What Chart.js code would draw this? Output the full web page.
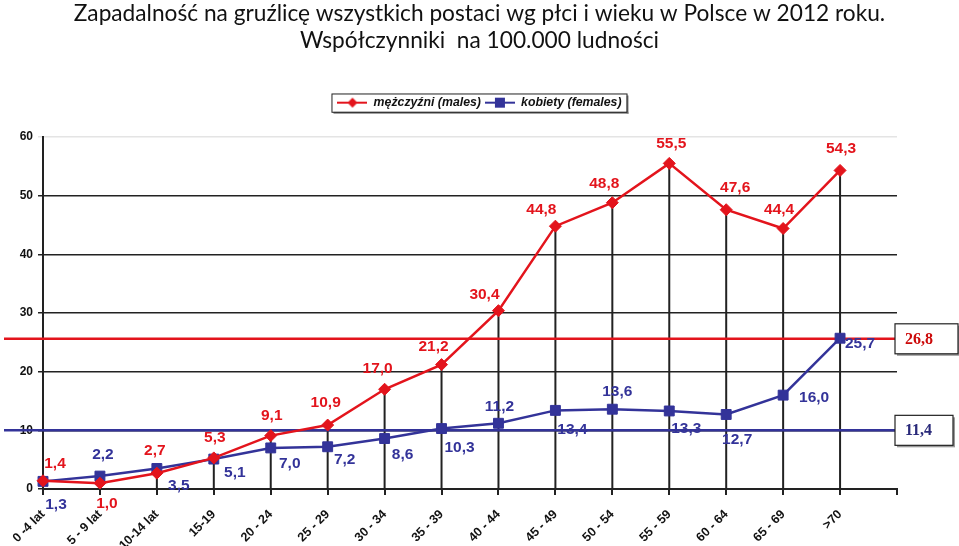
<!DOCTYPE html>
<html>
<head>
<meta charset="utf-8">
<script src="https://cdn.jsdelivr.net/npm/chart.js@4"></script>
<style>
  html, body { margin: 0; padding: 0; background: #fff; }
</style>
</head>
<body>
<canvas id="myChart" width="959" height="546"></canvas>
<script>
// data
const ageGroups = ['0 -4 lat', '5 - 9 lat', '10-14 lat', '15-19', '20 - 24', '25 - 29', '30 - 34', '35 - 39',
  '40 - 44', '45 - 49', '50 - 54', '55 - 59', '60 - 64', '65 - 69', '>70', ''];
const males = [1.4, 1.0, 2.7, 5.3, 9.1, 10.9, 17.0, 21.2, 30.4, 44.8, 48.8, 55.5, 47.6, 44.4, 54.3];
const females = [1.3, 2.2, 3.5, 5.1, 7.0, 7.2, 8.6, 10.3, 11.2, 13.4, 13.6, 13.3, 12.7, 16.0, 25.7];
const yTicks = [0, 10, 20, 30, 40, 50, 60];
const avgLevels = [25.6, 10];          // where the two average lines sit in the picture
const avgTexts = ['26,8', '11,4'];     // what their boxes say

const red = '#e3141c';
const navy = '#333399';
const ink = '#222222';

// label placement around each point (dx, dy in px)
const maleOffsets = [[12,-17],[7,21],[-2,-22],[1,-20],[1,-20],[-2,-22],[-7,-21],[-8,-18],
  [-14,-16],[-14,-16],[-8,-19],[2,-20],[9,-22],[-4,-19],[1,-22]];
const femaleOffsets = [[13,23],[3,-21],[22,17],[21,14],[19,16],[17,13],[18,16],[18,19],
  [1,-17],[17,19],[5,-17],[17,18],[11,25],[31,3],[20,6]];

function fmt(v) { return v.toFixed(1).replace('.', ','); }

function legendIcon(color, shape) {
  const c = document.createElement('canvas');
  c.width = 30; c.height = 12;
  const g = c.getContext('2d');
  g.strokeStyle = color; g.fillStyle = color; g.lineWidth = 2;
  g.beginPath(); g.moveTo(0, 6); g.lineTo(30, 6); g.stroke();
  g.beginPath();
  if (shape === 'diamond') {
    g.moveTo(15, 1); g.lineTo(20, 6); g.lineTo(15, 11); g.lineTo(10, 6);
  } else {
    g.rect(10, 1, 10, 10);
  }
  g.closePath(); g.fill();
  return c;
}
const legendIcons = [legendIcon(red, 'diamond'), legendIcon(navy, 'square')];

const dropLines = {
  id: 'dropLines',
  beforeDatasetsDraw(chart) {
    const {ctx, scales: {x, y}} = chart;
    ctx.save();
    ctx.strokeStyle = ink;
    ctx.lineWidth = 2;
    males.forEach((m, i) => {
      const px = x.getPixelForValue(i);
      ctx.beginPath();
      ctx.moveTo(px, y.getPixelForValue(Math.max(m, females[i])));
      ctx.lineTo(px, y.bottom);
      ctx.stroke();
    });
    // average lines run from the page edge to their boxes
    [red, navy].forEach((col, k) => {
      const py = y.getPixelForValue(avgLevels[k]);
      ctx.strokeStyle = col;
      ctx.lineWidth = 2.5;
      ctx.beginPath();
      ctx.moveTo(4, py);
      ctx.lineTo(x.right - 2, py);
      ctx.stroke();
    });
    ctx.restore();
  }
};

const valueLabels = {
  id: 'valueLabels',
  afterDatasetsDraw(chart) {
    const {ctx} = chart;
    ctx.save();
    ctx.font = 'bold 15.5px "Liberation Sans", Arial, sans-serif';
    ctx.textAlign = 'center';
    ctx.textBaseline = 'middle';
    [[males, maleOffsets, red], [females, femaleOffsets, navy]].forEach(([vals, offs, col], d) => {
      const pts = chart.getDatasetMeta(d).data;
      ctx.fillStyle = col;
      vals.forEach((v, i) => {
        ctx.fillText(fmt(v), pts[i].x + offs[i][0], pts[i].y + offs[i][1]);
      });
    });
    ctx.restore();
  },
  afterDraw(chart) {
    const {ctx, scales: {x, y}} = chart;
    ctx.save();
    // boxes with the averages
    const widths = [63, 58];
    const cols = ['#cc0a0a', '#2a2a7a'];
    ctx.font = 'bold 16px "Liberation Serif", "Times New Roman", serif';
    ctx.textBaseline = 'middle';
    avgTexts.forEach((t, k) => {
      const py = y.getPixelForValue(avgLevels[k]);
      const left = x.right - 2;
      ctx.fillStyle = '#999';
      ctx.fillRect(left + 2, py - 13, widths[k], 30);
      ctx.fillStyle = '#fff';
      ctx.fillRect(left, py - 15, widths[k], 30);
      ctx.strokeStyle = ink;
      ctx.lineWidth = 1.2;
      ctx.strokeRect(left, py - 15, widths[k], 30);
      ctx.fillStyle = cols[k];
      ctx.fillText(t, left + 10, py + 1);
    });
    // frame round the legend
    const boxes = chart.legend.legendHitBoxes;
    if (boxes.length) {
      const l = Math.min(...boxes.map(b => b.left)) - 6;
      const r = Math.max(...boxes.map(b => b.left + b.width)) + 5;
      const t = Math.min(...boxes.map(b => b.top)) - 3;
      const b = Math.max(...boxes.map(b => b.top + b.height)) + 3;
      ctx.fillStyle = '#888';
      ctx.fillRect(l + 2, b, r - l, 2);
      ctx.fillRect(r, t + 2, 2, b - t);
      ctx.strokeStyle = ink;
      ctx.lineWidth = 1;
      ctx.strokeRect(l + 0.5, t + 0.5, r - l, b - t);
    }
    ctx.restore();
  }
};

new Chart(document.getElementById('myChart'), {
  type: 'line',
  data: {
    labels: ageGroups,
    datasets: [{
      label: 'mężczyźni (males)',
      data: males,
      borderColor: red,
      backgroundColor: red,
      borderWidth: 2.5,
      pointStyle: 'rectRot',
      pointRadius: 6,
      pointBorderWidth: 1
    }, {
      label: 'kobiety (females)',
      data: females,
      borderColor: navy,
      backgroundColor: navy,
      borderWidth: 2.5,
      pointStyle: 'rect',
      pointRadius: 7,
      pointBorderWidth: 1
    }]
  },
  options: {
    responsive: false,
    animation: false,
    layout: { padding: 0 },
    plugins: {
      title: {
        display: true,
        text: ['Zapadalność na gruźlicę wszystkich postaci wg płci i wieku w Polsce w 2012 roku.',
               'Współczynniki  na 100.000 ludności'],
        color: '#111',
        font: { family: 'Lato, "Noto Sans", sans-serif', size: 22.7, weight: 'normal', lineHeight: 1.2 },
        padding: { top: 0, bottom: 38 }
      },
      // empty spacer between the legend and the plot
      subtitle: {
        display: true,
        text: ' ',
        weight: 500,
        font: { size: 1 },
        padding: { top: 0, bottom: 17 }
      },
      legend: {
        position: 'top',
        labels: {
          usePointStyle: true,
          pointStyleWidth: 30,
          boxHeight: 10,
          padding: 4,
          color: '#111',
          font: { family: '"Liberation Sans", Arial, sans-serif', size: 12.3, weight: 'bold', style: 'italic' },
          generateLabels(chart) {
            const items = Chart.defaults.plugins.legend.labels.generateLabels(chart);
            items.forEach((it, i) => { it.pointStyle = legendIcons[i]; });
            return items;
          }
        }
      },
      tooltip: { enabled: false }
    },
    scales: {
      x: {
        offset: false,
        afterFit(scale) { scale.height = 57; },
        grid: { drawOnChartArea: false, drawTicks: true, tickLength: 6, color: ink, lineWidth: 2 },
        border: { color: ink, width: 2 },
        ticks: {
          autoSkip: false,
          maxRotation: 45,
          minRotation: 45,
          padding: 12,
          color: '#111',
          font: { family: '"Liberation Sans", Arial, sans-serif', size: 12.5, weight: 'bold' }
        }
      },
      y: {
        min: 0,
        max: 60,
        afterFit(scale) { scale.width = 43; },
        afterBuildTicks(scale) { scale.ticks = yTicks.map(v => ({ value: v })); },
        grid: {
          color: ctx => (ctx.tick && ctx.tick.value === 60 ? '#e4e4e4' : ink),
          lineWidth: 1.5,
          tickLength: 5
        },
        border: { color: ink, width: 2 },
        ticks: {
          padding: 5,
          color: '#111',
          font: { family: '"Liberation Sans", Arial, sans-serif', size: 12, weight: 'bold' }
        }
      },
      // keeps room on the right for the average boxes
      yRight: {
        position: 'right',
        afterFit(scale) { scale.width = 62; },
        grid: { display: false },
        border: { display: false },
        ticks: { display: false }
      }
    }
  },
  plugins: [dropLines, valueLabels]
});
</script>
</body>
</html>
